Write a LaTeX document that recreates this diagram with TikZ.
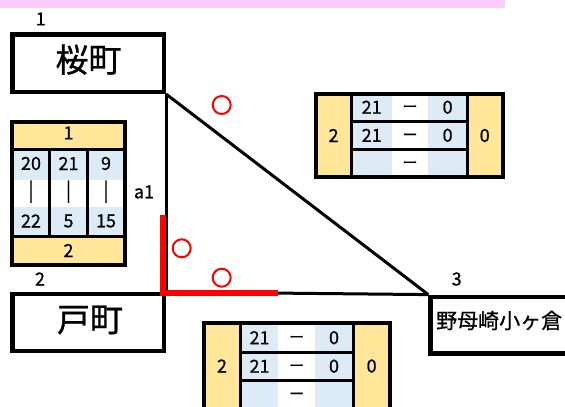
\documentclass[tikz,border=0pt]{standalone}
\usepackage{fontspec}
\setmainfont{Noto Sans CJK JP}
\newfontfamily\heavyjp{Noto Sans CJK JP}[FakeBold=0.8]
\definecolor{ylw}{RGB}{255,230,153}
\definecolor{lblue}{RGB}{221,235,247}
\definecolor{pinkbar}{RGB}{255,204,255}
\tikzset{
  team/.style={draw=black, line width=4.5pt, rectangle, inner sep=0pt},
  lbl/.style={inner sep=0pt, font=\heavyjp\fontsize{18}{18}\selectfont},
  dashlbl/.style={inner sep=0pt, anchor=base, font=\heavyjp\fontsize{15}{15}\selectfont},
  barlbl/.style={inner sep=0pt, font=\heavyjp\fontsize{20}{20}\selectfont},
  conn/.style={draw=black, line width=3pt},
  win/.style={draw=red, line width=6pt},
  ringmark/.style={draw=red, line width=2pt, circle, minimum size=18pt, inner sep=0pt},
  outerln/.style={draw=black, line width=4pt},
  innerln/.style={draw=black, line width=3pt},
}
\begin{document}
\begin{tikzpicture}[x=1pt,y=-1pt]
\useasboundingbox (0,0) rectangle (565,407);
\clip (0,0) rectangle (565,407);
% pink bar
\fill[pinkbar] (0,0) rectangle (505,7.7);

% team boxes
\node[team, minimum width=151.5pt, minimum height=57.5pt] (sakura) at (88,63) {};
\node[inner sep=0pt, font=\heavyjp\fontsize{33}{33}\selectfont] (sakuraT) at (88.5,59.5) {桜町};
\node[team, minimum width=151.5pt, minimum height=56.75pt] (tomachi) at (88,322.6) {};
\node[inner sep=0pt, font=\heavyjp\fontsize{33}{33}\selectfont] (tomachiT) at (90,320) {戸町};
\node[team, anchor=north west, minimum width=200pt, minimum height=56.4pt] (nomo) at (428.3,294.6) {};
\node[inner sep=0pt, anchor=west, font=\heavyjp\fontsize{21}{21}\selectfont] (nomoT) at (436,320.5) {野母崎小ヶ倉};

% connectors
\draw[conn] (sakura.south east) -- (tomachi.north east);
\draw[conn] (tomachi.north east) -- (nomo.north west);
\draw[conn] (sakura.south east) -- (nomo.north west);

% winner highlight
\coordinate (r1) at (162.5,215);
\coordinate (r2) at (278.3,292.5);
\draw[win] (r1) |- (r2);

% circles
\node[ringmark] (c1) at (221.7,105) {};
\node[ringmark] (c2) at (181.7,248.3) {};
\node[ringmark] (c3) at (221.7,277.7) {};

% labels
\node[lbl] (n1) at (40.7,19) {1};
\node[lbl] (n2) at (40,279) {2};
\node[lbl] (n3) at (456.7,279) {3};
\node[lbl, anchor=base] (a1) at (144,198.3) {a1};

% left table
\fill[ylw] (12,122) rectangle (124.7,149);
\fill[ylw] (12,236.3) rectangle (124.7,265);
\fill[lblue] (12,149) rectangle (124.7,180);
\fill[lblue] (12,207) rectangle (124.7,236.3);
\draw[innerln] (12,149) -- (124.7,149);
\draw[innerln] (12,236.3) -- (124.7,236.3);
\draw[innerln] (49.5,149) -- (49.5,236.3);
\draw[innerln] (87.2,149) -- (87.2,236.3);
\draw[outerln] (12,122) rectangle (124.7,265);
\node[lbl] (lt1) at (68.5,133) {1};
\node[lbl] (lt2) at (31,163.5) {20};
\node[lbl] (lt3) at (68.5,163.5) {21};
\node[lbl] (lt4) at (106,163.5) {9};
\node[barlbl] (lt5) at (31,191.7) {|};
\node[barlbl] (lt6) at (68.5,191.7) {|};
\node[barlbl] (lt7) at (106,191.7) {|};
\node[lbl] (lt8) at (31,221) {22};
\node[lbl] (lt9) at (68.5,221) {5};
\node[lbl] (lt10) at (106,221) {15};
\node[lbl] (lt11) at (68.5,250.5) {2};

% top right table
\fill[ylw] (315.5,94) rectangle (351.7,177);
\fill[ylw] (467,94) rectangle (502.5,177);
\fill[lblue] (351.7,94) rectangle (391.7,177);
\fill[lblue] (428.3,94) rectangle (467,177);
\draw[innerln] (351.7,94) -- (351.7,177);
\draw[innerln] (467,94) -- (467,177);
\draw[innerln] (351.7,121.3) -- (467,121.3);
\draw[innerln] (351.7,149.3) -- (467,149.3);
\draw[outerln] (315.5,94) rectangle (502.5,177);
\node[lbl] (ta) at (333.6,135.5) {2};
\node[lbl] (tb) at (484.7,135.5) {0};
\node[lbl] (t11) at (371.7,107.2) {21};
\node[dashlbl] (t12) at (410,112) {ー};
\node[lbl] (t13) at (447.6,107.2) {0};
\node[lbl] (t21) at (371.7,135.3) {21};
\node[dashlbl] (t22) at (410,140.1) {ー};
\node[lbl] (t23) at (447.6,135.3) {0};
\node[dashlbl] (t32) at (410,168) {ー};

% bottom table
\fill[ylw] (203.8,323.3) rectangle (240.2,440);
\fill[ylw] (353.2,323.3) rectangle (390,440);
\fill[lblue] (240.2,323.3) rectangle (278.3,440);
\fill[lblue] (315,323.3) rectangle (353.2,440);
\draw[innerln] (240.2,323.3) -- (240.2,440);
\draw[innerln] (353.2,323.3) -- (353.2,440);
\draw[innerln] (240.2,352.2) -- (353.2,352.2);
\draw[innerln] (240.2,380.3) -- (353.2,380.3);
\draw[innerln] (240.2,408.4) -- (353.2,408.4);
\draw[outerln] (203.8,323.3) rectangle (390,440);
\node[lbl] (ba) at (222,366) {2};
\node[lbl] (bb) at (371.6,366) {0};
\node[lbl] (b11) at (259.6,337.7) {21};
\node[dashlbl] (b12) at (296.6,342.5) {ー};
\node[lbl] (b13) at (334,337.7) {0};
\node[lbl] (b21) at (259.6,366.2) {21};
\node[dashlbl] (b22) at (296.6,371) {ー};
\node[lbl] (b23) at (334,366.2) {0};
\node[dashlbl] (b32) at (296.6,399.1) {ー};
\end{tikzpicture}
\end{document}
